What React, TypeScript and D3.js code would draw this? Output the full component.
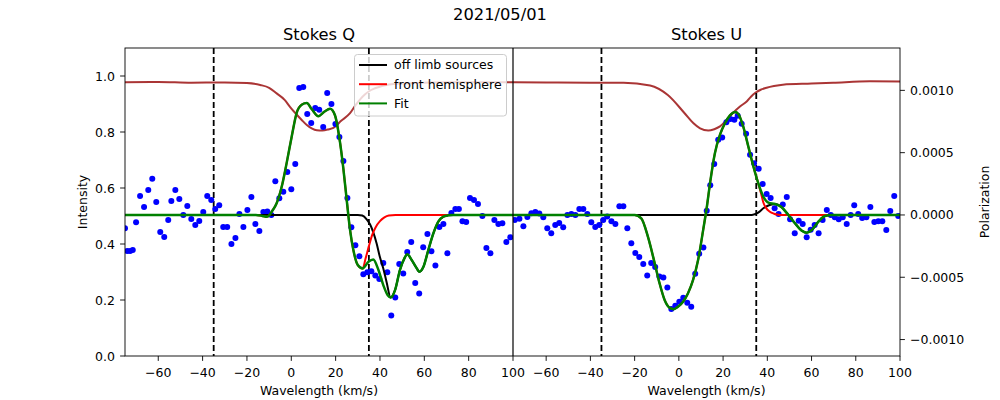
import React from "react";
import * as d3 from "d3";

// ---------- DATA ----------
// Stokes Q observed points (x in km/s, polarization in units of 1e-4)
const qX = [-75.0,-74.0,-72.7,-71.5,-70.0,-68.2,-66.4,-64.5,-62.7,-60.9,-59.1,-57.3,-55.5,-54.1,-52.3,-50.5,-48.7,-46.9,-45.1,-43.3,-41.5,-39.7,-37.9,-36.1,-34.3,-32.5,-30.7,-28.9,-27.0,-25.2,-23.4,-21.6,-19.8,-18.0,-16.2,-14.4,-12.6,-10.8,-9.0,-7.2,-5.4,-3.6,-1.8,0.0,1.8,3.6,5.4,7.2,9.0,10.8,12.6,14.4,16.2,18.1,19.9,21.7,23.5,25.3,27.1,28.9,30.7,32.5,34.3,36.1,37.9,39.7,41.5,43.3,45.1,46.9,48.7,50.5,52.3,54.1,55.9,57.7,59.5,61.4,63.2,65.0,66.8,68.6,70.4,72.2,74.0,75.6,77.2,78.9,80.6,82.4,84.2,86.2,88.0,89.8,91.6,93.4,95.2,97.0,98.8];
const qY = [-1.07,-2.90,-2.90,-2.82,-0.59,1.53,0.64,2.01,2.90,1.05,-1.37,-1.77,-0.40,1.13,2.01,1.29,0.00,0.72,-0.32,-0.80,-0.48,0.24,1.53,1.21,0.48,0.78,-0.97,-0.97,-2.33,-1.85,0.08,-0.97,0.40,1.45,-0.72,-1.29,0.24,0.27,0.00,2.71,1.34,1.87,3.44,2.07,4.08,10.19,10.27,8.10,7.38,8.58,8.45,7.06,9.79,8.91,7.30,6.25,4.34,1.37,-0.99,-2.44,-3.32,-4.75,-4.59,-4.51,-4.85,-5.15,-3.86,-4.59,-8.07,-6.62,-3.94,-4.69,-2.98,-2.17,-5.47,-6.30,-2.60,-1.53,-2.92,-4.05,-0.97,-0.72,-3.08,0.16,0.48,0.48,-0.51,-0.56,1.37,1.21,0.88,-0.08,-2.65,-3.08,-0.40,-0.72,-0.67,-2.17,-1.79];

// Stokes U observed points
const uX = [-74.2,-72.1,-70.3,-68.5,-66.7,-64.9,-63.1,-61.3,-59.5,-57.7,-55.9,-54.1,-52.3,-50.4,-48.6,-46.8,-45.0,-43.2,-41.4,-39.6,-37.8,-36.0,-34.2,-32.4,-30.5,-28.7,-26.9,-25.1,-23.3,-21.5,-19.7,-17.9,-16.1,-14.3,-12.5,-10.7,-8.8,-7.0,-5.2,-3.4,-1.6,0.2,2.0,3.8,5.6,7.4,9.2,11.1,12.6,14.2,16.0,17.8,19.6,21.5,23.3,25.1,26.6,28.4,30.4,32.2,34.0,36.1,37.9,39.7,41.5,43.3,45.1,47.0,48.8,50.3,52.4,54.2,56.0,57.8,59.6,61.4,63.2,65.0,66.9,68.7,70.5,72.3,74.1,75.9,77.7,79.3,81.1,82.9,84.8,86.6,88.4,90.2,92.0,93.8,95.6,97.4,99.2];
const uY = [-0.40,-0.30,-0.91,-0.16,0.13,0.24,0.11,-0.19,-1.07,-1.47,-0.80,-0.64,-0.99,0.00,0.08,0.00,0.48,0.48,0.08,-0.59,-0.97,-0.80,-0.40,-0.13,-0.51,-0.72,0.70,0.70,-1.07,-2.28,-3.06,-3.38,-3.94,-4.85,-3.86,-4.18,-4.93,-5.01,-5.82,-7.54,-7.29,-6.97,-6.65,-7.05,-7.37,-4.72,-3.11,-2.62,0.33,2.39,4.08,6.03,6.22,7.45,7.70,7.64,7.96,7.32,6.52,4.83,4.16,3.70,2.49,1.69,1.37,0.54,0.08,0.83,1.45,-0.35,-1.47,-0.46,-0.72,-1.79,-1.18,-0.80,-1.47,-0.40,0.40,0.00,-0.19,-0.35,-0.19,-0.72,0.00,0.78,0.08,-0.24,-0.19,0.64,-0.56,-0.51,-0.51,-1.21,0.32,1.53,-0.08];

// Q fit (green)
const qFitX = [-75,-16,-13,-11,-9.8,-8.8,-6.6,-4.3,-2.1,0.2,2.4,4.7,7.0,9.2,12.2,15.0,17.5,19.7,22.0,23.5,25.0,26.5,28.0,30.0,32.2,34.8,37.0,39.3,41.5,43.5,44.8,46.8,49.0,51.0,52.3,54.3,56.6,57.7,59.6,61.8,64.1,66.3,68.6,70.8,73,100];
const qFitY = [0,0,-0.08,-0.15,0,0.27,0.94,2.28,4.16,6.30,8.18,8.85,8.98,8.50,7.93,8.30,8.52,8.00,5.80,3.70,1.20,-1.20,-2.82,-4.02,-4.29,-3.75,-3.57,-4.42,-5.63,-6.44,-6.62,-6.03,-4.42,-3.49,-3.15,-3.62,-4.29,-4.56,-4.16,-2.82,-1.47,-0.54,-0.13,-0.03,0,0];
// Q front hemisphere (red), visible part after it leaves the fit
const qRedX = [33.5,35.0,36.5,38.0,40.0,42.0,44.0,47.0,100];
const qRedY = [-3.5,-2.5,-1.6,-1.0,-0.5,-0.2,-0.05,0,0];
const qRedJoin = 32.2;
// Q off limb sources (black), visible part before it joins the fit
const qBlackX = [-75,30,32,34,35.5,37,38.5,40,41.5,43];
const qBlackY = [0,0,-0.05,-0.35,-0.75,-1.4,-2.3,-3.4,-4.3,-5.4];
const qBlackJoin = 44.8;

// U fit (green)
const uFitX = [-75,-22,-20,-17,-14,-10.9,-8.7,-6.4,-4.1,-2.3,-0.4,1.9,4.1,6.4,8.7,11.0,12.7,14.1,16.3,18.6,20.9,23.1,25.4,26.9,29.1,31.4,33.7,35.9,38.2,40.5,43.5,46.5,49.5,52.5,55.6,57.8,60.1,63.1,66.1,69,100];
const uFitY = [0,0,0,-0.27,-1.74,-3.89,-5.50,-6.84,-7.46,-7.56,-7.37,-6.97,-6.30,-5.23,-3.62,-1.20,0.70,2.55,4.96,6.44,7.38,7.99,8.26,8.10,7.10,5.50,3.89,2.55,1.47,0.99,0.88,0.62,0,-0.67,-1.26,-1.42,-1.21,-0.54,-0.08,0,0];
const uRedX = [37.2,38.2,39.5,41.0,43.0,45.0,47.0,100];
const uRedY = [1.7,1.0,0.55,0.28,0.1,0.02,0,0];
const uRedJoin = 35.9;
const uBlackX = [-75,33,35,36.5,38.2,40,41.5];
const uBlackY = [0,0,0.1,0.27,0.54,0.72,0.82];
const uBlackJoin = 43.5;

// Intensity profiles (brown), left axis
const iQX = [-75,-60,-45,-30,-20,-14,-10,-6.6,-3,-0.6,2,4.7,7,9.2,11.5,14,17,19,22.5,26.5,29,33.3,36,40.8,48.3,60,70.7,85,100];
const iQY = [0.978,0.979,0.976,0.977,0.975,0.968,0.958,0.938,0.915,0.89,0.866,0.843,0.825,0.813,0.806,0.805,0.81,0.815,0.84,0.867,0.896,0.935,0.95,0.964,0.973,0.976,0.978,0.978,0.978];
const iUX = [-75,-60,-40,-25,-13,-5,2.6,6.5,9.6,13.3,16,18.6,21.5,24.6,27.5,30.8,32.6,34.6,37,39.7,43,47,60,69.8,86.4,100];
const iUY = [0.978,0.977,0.976,0.976,0.966,0.932,0.867,0.832,0.813,0.805,0.81,0.82,0.842,0.869,0.89,0.91,0.926,0.94,0.951,0.958,0.964,0.969,0.973,0.976,0.981,0.98];

const xTicksQ = [-60,-40,-20,0,20,40,60,80,100];
const xTicksU = [-60,-40,-20,0,20,40,60,80,100];
const yTicksI = [0,0.2,0.4,0.6,0.8,1.0];
const yTicksP = [-10,-5,0,5,10];
const dashLines = [-35,35];
const legendItems = [
  { label: "off limb sources", color: "black" },
  { label: "front hemisphere", color: "red" },
  { label: "Fit", color: "green" },
];

// ---------- LAYOUT ----------
const L = 125, R = 900, T = 48, B = 356, M = 513;
const FONT = "DejaVu Sans";
const TICK = 4.9;

const minus = (s: string) => s.replace("-", "\u2212");

function zip(xs: number[], ys: number[]) {
  return xs.map((x, i) => [x, ys[i]] as [number, number]);
}
function joinCurves(head: [number, number][], tailX: number[], tailY: number[]) {
  return head.concat(zip(tailX, tailY));
}

export default function App() {
  const xQ = d3.scaleLinear().domain([-75, 100]).range([L, M]);
  const xU = d3.scaleLinear().domain([-75, 100]).range([M, R]);
  const yI = d3.scaleLinear().domain([0, 1.1]).range([B, T]);
  const yP = d3.scaleLinear().domain([-11.32, 13.40]).range([B, T]);

  const mk = (xs: d3.ScaleLinear<number, number>, ys: d3.ScaleLinear<number, number>) =>
    d3.line<[number, number]>().x(d => xs(d[0])).y(d => ys(d[1])).curve(d3.curveMonotoneX);

  const qFit = zip(qFitX, qFitY);
  const uFit = zip(uFitX, uFitY);
  const qRed = joinCurves(qFit.filter(d => d[0] <= qRedJoin), qRedX, qRedY);
  const uRed = joinCurves(uFit.filter(d => d[0] <= uRedJoin), uRedX, uRedY);
  const qBlack = zip(qBlackX, qBlackY).concat(qFit.filter(d => d[0] >= qBlackJoin));
  const uBlack = zip(uBlackX, uBlackY).concat(uFit.filter(d => d[0] >= uBlackJoin));

  const lQ = mk(xQ, yP), lU = mk(xU, yP);
  const bQ = mk(xQ, yI), bU = mk(xU, yI);

  const txt = { fontFamily: FONT, fontSize: 12.5, fill: "black" } as const;

  return (
    <svg width={1000} height={400} style={{ position: "absolute", left: 0, top: 0, background: "white" }}>
      <defs>
        <clipPath id="cq"><rect x={L} y={T} width={M - L} height={B - T} /></clipPath>
        <clipPath id="cu"><rect x={M} y={T} width={R - M} height={B - T} /></clipPath>
      </defs>
      <rect x={0} y={0} width={1000} height={400} fill="white" />

      {/* titles */}
      <text x={500} y={20} textAnchor="middle" style={{ ...txt, fontSize: 16.3 }}>2021/05/01</text>
      <text x={(L + M) / 2} y={39.5} textAnchor="middle" style={{ ...txt, fontSize: 16.3 }}>Stokes Q</text>
      <text x={(M + R) / 2} y={39.5} textAnchor="middle" style={{ ...txt, fontSize: 16.3 }}>Stokes U</text>

      {/* Q panel */}
      <g clipPath="url(#cq)">
        <path d={bQ(zip(iQX, iQY)) || ""} fill="none" stroke="#a52a2a" strokeOpacity={0.95} strokeWidth={2} />
        {dashLines.map(v => (
          <line key={v} x1={xQ(v)} x2={xQ(v)} y1={T} y2={B} stroke="black" strokeWidth={1.8} strokeDasharray="6,3" />
        ))}
        {qX.map((x, i) => <circle key={i} cx={xQ(x)} cy={yP(qY[i])} r={3} fill="blue" />)}
        <path d={lQ(qBlack) || ""} fill="none" stroke="black" strokeWidth={2} />
        <path d={lQ(qRed) || ""} fill="none" stroke="red" strokeWidth={2} />
        <path d={lQ(qFit) || ""} fill="none" stroke="green" strokeWidth={2.5} />
      </g>

      {/* U panel */}
      <g clipPath="url(#cu)">
        <path d={bU(zip(iUX, iUY)) || ""} fill="none" stroke="#a52a2a" strokeOpacity={0.95} strokeWidth={2} />
        {dashLines.map(v => (
          <line key={v} x1={xU(v)} x2={xU(v)} y1={T} y2={B} stroke="black" strokeWidth={1.8} strokeDasharray="6,3" />
        ))}
        {uX.map((x, i) => <circle key={i} cx={xU(x)} cy={yP(uY[i])} r={3} fill="blue" />)}
        <path d={lU(uBlack) || ""} fill="none" stroke="black" strokeWidth={2} />
        <path d={lU(uRed) || ""} fill="none" stroke="red" strokeWidth={2} />
        <path d={lU(uFit) || ""} fill="none" stroke="green" strokeWidth={2.5} />
      </g>

      {/* divider */}
      <line x1={M} x2={M} y1={T} y2={B} stroke="black" strokeWidth={1.2} />

      {/* frame */}
      <rect x={L} y={T} width={R - L} height={B - T} fill="none" stroke="black" strokeWidth={0.9} />

      {/* x ticks */}
      {xTicksQ.map(t => (
        <g key={"q" + t}>
          <line x1={xQ(t)} x2={xQ(t)} y1={B} y2={B + TICK} stroke="black" strokeWidth={0.9} />
          <text x={xQ(t)} y={B + 20.5} textAnchor="middle" style={txt}>{minus(String(t))}</text>
        </g>
      ))}
      {xTicksU.map(t => (
        <g key={"u" + t}>
          <line x1={xU(t)} x2={xU(t)} y1={B} y2={B + TICK} stroke="black" strokeWidth={0.9} />
          <text x={xU(t)} y={B + 20.5} textAnchor="middle" style={txt}>{minus(String(t))}</text>
        </g>
      ))}
      <text x={(L + M) / 2} y={395} textAnchor="middle" style={txt}>Wavelength (km/s)</text>
      <text x={(M + R) / 2} y={395} textAnchor="middle" style={txt}>Wavelength (km/s)</text>

      {/* left y */}
      {yTicksI.map(t => (
        <g key={"i" + t}>
          <line x1={L - TICK} x2={L} y1={yI(t)} y2={yI(t)} stroke="black" strokeWidth={0.9} />
          <text x={L - 10} y={yI(t)} dy="0.36em" textAnchor="end" style={txt}>{t.toFixed(1)}</text>
        </g>
      ))}
      <text transform={`translate(87,${(T + B) / 2}) rotate(-90)`} textAnchor="middle" style={txt}>Intensity</text>

      {/* right y */}
      {yTicksP.map(t => (
        <g key={"p" + t}>
          <line x1={R} x2={R + TICK} y1={yP(t)} y2={yP(t)} stroke="black" strokeWidth={0.9} />
          <text x={R + 10} y={yP(t)} dy="0.36em" textAnchor="start" style={txt}>{minus((t * 1e-4).toFixed(4))}</text>
        </g>
      ))}
      <text transform={`translate(989,${(T + B) / 2}) rotate(-90)`} textAnchor="middle" style={txt}>Polarization</text>

      {/* legend */}
      <g>
        <rect x={354.5} y={54.5} width={152} height={61.5} rx={3} fill="white" fillOpacity={0.8} stroke="#cccccc" strokeWidth={1} />
        {legendItems.map((it, i) => (
          <g key={it.label}>
            <line x1={359} x2={387} y1={65 + i * 19.2} y2={65 + i * 19.2} stroke={it.color} strokeWidth={2} />
            <text x={394} y={65 + i * 19.2} dy="0.35em" style={txt}>{it.label}</text>
          </g>
        ))}
      </g>
    </svg>
  );
}
